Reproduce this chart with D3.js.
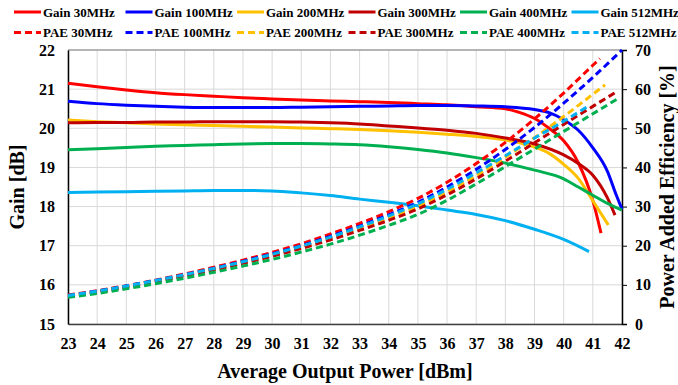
<!DOCTYPE html>
<html><head><meta charset="utf-8">
<script src="https://cdn.jsdelivr.net/npm/d3@7"></script>
<style>body{margin:0;background:#fff}svg{display:block}text{font-family:"Liberation Serif","Times New Roman",serif;font-weight:bold;fill:#000}</style>
</head><body><svg id="c" width="678" height="385"></svg>
<script>
// ---- data ----
const xTicks = d3.range(23, 43);
const gainTicks = [15,16,17,18,19,20,21,22];
const paeTicks = [0,10,20,30,40,50,60,70];
const freqs = ["30MHz","100MHz","200MHz","300MHz","400MHz","512MHz"];
const colors = ["#ff0000","#0000ff","#ffc000","#c00000","#00b050","#00b0f0"];

const gain30P = [23,24,25,26,27,28,29,30,31,32,33,34,35,36,37,38,38.5,39,39.5,40,40.5,41,41.28];
const gain30  = [21.15,21.06,20.98,20.91,20.86,20.82,20.78,20.75,20.72,20.70,20.68,20.66,20.63,20.60,20.55,20.50,20.40,20.25,20.0,19.68,19.12,18.15,17.32];
const gain100P = [23,24,25,26,27,28,29,30,31,32,33,34,35,36,37,38,39,39.5,40,40.5,41,41.5,41.8,42];
const gain100  = [20.69,20.63,20.59,20.56,20.54,20.53,20.53,20.53,20.54,20.55,20.56,20.57,20.58,20.58,20.57,20.55,20.48,20.40,20.22,19.95,19.5,18.9,18.3,17.93];
const gain200P = [23,24,25,26,27,28,29,30,31,32,33,34,35,36,37,38,39,39.5,40,40.5,41,41.53];
const gain200  = [20.21,20.17,20.14,20.11,20.09,20.07,20.05,20.03,20.01,19.99,19.97,19.94,19.90,19.85,19.79,19.70,19.52,19.36,19.08,18.72,18.15,17.53];
const gain300P = [23,24,25,26,27,28,29,30,31,32,33,34,35,36,37,38,39,40,40.5,41,41.5,41.76];
const gain300  = [20.14,20.15,20.15,20.16,20.16,20.17,20.17,20.17,20.16,20.14,20.11,20.06,20.01,19.95,19.87,19.75,19.60,19.32,19.10,18.80,18.22,17.78];
const gain400P = [23,24,25,26,27,28,29,30,31,32,33,34,35,36,37,38,39,40,40.5,41,41.5,42];
const gain400  = [19.45,19.48,19.51,19.54,19.56,19.58,19.60,19.61,19.61,19.60,19.58,19.53,19.46,19.37,19.25,19.11,18.93,18.71,18.50,18.29,18.08,17.91];
const gain512P = [23,24,25,26,27,28,29,30,31,32,33,34,35,36,37,38,39,40,40.87];
const gain512  = [18.36,18.37,18.38,18.39,18.40,18.41,18.41,18.40,18.35,18.28,18.19,18.11,18.02,17.91,17.80,17.64,17.42,17.16,16.85];

const pae30P = [23,24,25,26,27,28,29,30,31,32,33,34,35,36,37,38,39,40,41,41.24];
const pae30  = [7.4,8.5,9.8,11.2,12.8,14.5,16.3,18.3,20.5,23.0,25.7,28.7,32.1,36.2,41.0,46.4,52.4,59.0,66.1,67.8];
const pae100P = [23,24,25,26,27,28,29,30,31,32,33,34,35,36,37,38,39,40,41,42];
const pae100  = [7.3,8.4,9.7,11.1,12.6,14.2,16.0,17.9,20.0,22.4,25.0,27.9,31.1,35.0,39.5,44.6,50.2,56.4,63.0,70.0];
const pae200P = [23,24,25,26,27,28,29,30,31,32,33,34,35,36,37,38,39,40,41,41.42];
const pae200  = [7.2,8.2,9.5,10.9,12.4,14.0,15.7,17.6,19.6,21.9,24.4,27.1,30.1,33.7,37.9,42.6,47.6,53.0,58.7,61.1];
const pae300P = [23,24,25,26,27,28,29,30,31,32,33,34,35,36,37,38,39,40,41,41.76];
const pae300  = [7.1,8.1,9.4,10.8,12.3,13.8,15.5,17.3,19.3,21.5,23.9,26.5,29.4,33.0,37.1,41.6,46.3,51.0,55.6,59.1];
const pae400P = [23,24,25,26,27,28,29,30,31,32,33,34,35,36,37,38,39,40,41,41.93];
const pae400  = [6.8,7.8,9.0,10.3,11.7,13.2,14.8,16.5,18.4,20.4,22.7,25.2,28.0,31.6,35.8,40.2,44.7,49.2,53.7,57.9];
const pae512P = [23,24,25,26,27,28,29,30,31,32,33,34,35,36,37,38,39,40,40.81];
const pae512  = [7.3,8.4,9.7,11.1,12.6,14.2,15.9,17.8,19.9,22.2,24.8,27.6,30.7,34.4,38.6,43.0,47.5,51.8,55.5];

const gainSeries = [[gain30P,gain30],[gain100P,gain100],[gain200P,gain200],[gain300P,gain300],[gain400P,gain400],[gain512P,gain512]];
const paeSeries = [[pae30P,pae30],[pae100P,pae100],[pae200P,pae200],[pae300P,pae300],[pae400P,pae400],[pae512P,pae512]];

// ---- layout ----
const svg = d3.select("#c");
const L = 68, R = 622, T = 50, B = 324;
const x = d3.scaleLinear().domain([23,42]).range([L,R]);
const yG = d3.scaleLinear().domain([15,22]).range([B,T]);
const yP = d3.scaleLinear().domain([0,70]).range([B,T]);

// grid
const g = svg.append("g");
g.selectAll(".vg").data(xTicks).join("line")
  .attr("x1",d=>x(d)).attr("x2",d=>x(d)).attr("y1",T).attr("y2",B)
  .attr("stroke","#d9d9d9").attr("stroke-width",1);
g.selectAll(".hg").data(gainTicks).join("line")
  .attr("x1",L).attr("x2",R).attr("y1",d=>yG(d)).attr("y2",d=>yG(d))
  .attr("stroke","#d9d9d9").attr("stroke-width",1);
svg.append("line").attr("x1",L).attr("x2",R).attr("y1",T).attr("y2",T).attr("stroke","#7f7f7f").attr("stroke-width",1.2);

// axes
const ax = d3.axisBottom(x).tickValues(xTicks).tickSize(0).tickPadding(14).tickFormat(d3.format("d"));
const axB = svg.append("g").attr("transform",`translate(0,${B})`).call(ax);
axB.select(".domain").attr("stroke","#404040").attr("stroke-width",1.5);
const axL = svg.append("g").attr("transform",`translate(${L},0)`).call(d3.axisLeft(yG).tickValues(gainTicks).tickSize(0).tickPadding(13).tickFormat(d3.format("d")));
axL.select(".domain").attr("stroke","#000").attr("stroke-width",1.5);
const axR = svg.append("g").attr("transform",`translate(${R},0)`).call(d3.axisRight(yP).tickValues(paeTicks).tickSize(5).tickPadding(8).tickFormat(d3.format("d")));
axR.select(".domain").attr("stroke","#000").attr("stroke-width",1.5);
axR.selectAll(".tick line").attr("stroke","#000");
svg.selectAll(".tick text").style("font-size","16px").style("font-family","'Liberation Serif',serif").style("font-weight","bold").attr("fill","#000");

// lines
const lineG = d3.line().x(d=>x(d[0])).y(d=>yG(d[1])).curve(d3.curveMonotoneX);
const lineP = d3.line().x(d=>x(d[0])).y(d=>yP(d[1])).curve(d3.curveMonotoneX);
const plot = svg.append("g");
gainSeries.forEach((s,i)=>{
  plot.append("path").datum(d3.zip(s[0],s[1])).attr("d",lineG)
    .attr("fill","none").attr("stroke",colors[i]).attr("stroke-width",3);
});
paeSeries.forEach((s,i)=>{
  plot.append("path").datum(d3.zip(s[0],s[1])).attr("d",lineP)
    .attr("fill","none").attr("stroke",colors[i]).attr("stroke-width",3).attr("stroke-dasharray","7,4");
});

// titles
svg.append("text").attr("x",(L+R)/2).attr("y",378).attr("text-anchor","middle").style("font-size","20px").text("Average Output Power [dBm]");
svg.append("text").attr("transform",`translate(24,${(T+B)/2}) rotate(-90)`).attr("text-anchor","middle").style("font-size","20px").text("Gain [dB]");
svg.append("text").attr("transform",`translate(674,${(T+B)/2}) rotate(-90)`).attr("text-anchor","middle").style("font-size","20px").text("Power Added Efficiency [%]");

// legend
const leg = svg.append("g");
freqs.forEach((f,i)=>{
  const lx = 14 + i*111.5;
  [["Gain ",null,12],["PAE ","7,4",32.5]].forEach(([pre,dash,ly])=>{
    leg.append("line").attr("x1",lx).attr("x2",lx+27).attr("y1",ly).attr("y2",ly)
      .attr("stroke",colors[i]).attr("stroke-width",3).attr("stroke-dasharray",dash);
    leg.append("text").attr("x",lx+29).attr("y",ly+4.5).style("font-size","13px").text(pre+f);
  });
});
</script></body></html>
